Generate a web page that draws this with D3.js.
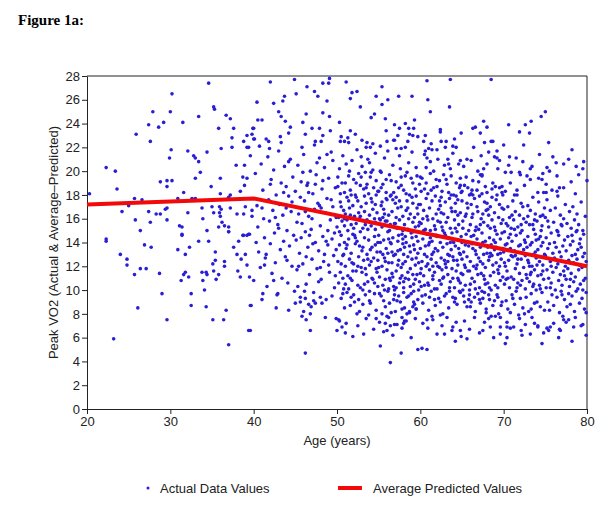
<!DOCTYPE html>
<html>
<head>
<meta charset="utf-8">
<script src="https://cdn.jsdelivr.net/npm/d3@7"></script>
<style>
	body { margin: 0; background: #fff; }
	text { font-family: "Liberation Sans", Arial, sans-serif; }
</style>
</head>
<body>
<div class="chart"></div>
<script>
var ageTicks = [20, 30, 40, 50, 60, 70, 80];
var vo2Ticks = [0, 2, 4, 6, 8, 10, 12, 14, 16, 18, 20, 22, 24, 26, 28];

// average predicted values (age, peak VO2)
var predAge = [20, 40, 80];
var predVo2 = [17.2, 17.7, 12.0];

// actual data values, [age, peak VO2]
var young = [[20.3,18.1],[22.3,20.3],[23.4,20.0],[23.6,18.5],[24.2,16.6],[25.0,17.1],[25.7,17.7],[26.6,17.6],[25.8,15.9],[26.4,15.0],[25.9,23.1],[27.4,23.9],[27.6,22.5],[27.9,25.0],[28.6,23.7],[29.2,24.1],[27.4,16.6],[27.6,15.7],[28.3,16.4],[28.8,16.4],[28.8,19.1],[29.6,19.2],[29.6,18.7],[30.2,19.2],[29.9,21.1],[30.1,21.8],[30.0,25.0],[30.2,26.5],[31.5,24.1],[32.1,21.7],[32.8,21.3],[33.0,21.1],[33.4,20.8],[33.6,19.9],[33.4,24.6],[33.0,19.4],[31.6,18.2],[30.9,17.7],[32.6,17.7],[33.0,17.7],[29.6,16.9],[29.4,16.8],[29.6,15.9],[31.1,15.4],[31.4,15.3],[31.4,14.7],[32.1,16.5],[33.8,16.9],[34.4,21.6],[34.6,27.4],[34.9,18.7],[35.2,25.4],[35.3,25.2],[36.0,19.4],[35.8,23.6],[36.1,21.9],[36.7,24.7],[37.2,24.4],[37.6,23.6],[37.4,22.8],[37.4,22.0],[37.9,20.5],[38.8,22.5],[39.2,23.0],[39.8,23.1],[39.9,23.6],[40.0,22.7],[39.2,22.0],[39.4,22.0],[39.6,21.3],[38.9,20.5],[38.7,19.5],[39.2,19.4],[38.9,18.8],[38.4,18.3],[37.2,18.0],[37.0,17.8],[36.0,18.1],[35.0,17.0],[35.2,16.5],[35.9,17.0],[36.1,16.8],[35.9,16.5],[36.0,16.2],[36.2,15.7],[35.8,15.3],[36.5,15.4],[37.0,15.3],[37.0,14.9],[37.2,16.9],[38.0,16.4],[38.8,16.4],[39.0,17.0],[39.8,16.7],[39.8,16.2],[38.7,14.6],[39.2,14.6],[39.4,14.7],[34.4,15.0],[33.9,16.0],[22.3,14.3],
	[22.3,14.1],[23.2,5.9],[24.0,13.0],[24.8,12.6],[24.8,12.1],[25.7,11.3],[26.1,8.5],[26.4,11.8],[26.9,13.8],[27.1,11.8],[27.7,13.6],[28.7,11.4],[29.0,9.7],[29.6,7.5],[30.9,13.4],[31.4,14.6],[31.8,13.0],[32.3,13.6],[31.6,11.3],[31.8,11.5],[32.2,11.1],[31.3,10.8],[32.5,9.7],[32.5,8.7],[33.4,14.1],[34.6,14.1],[33.8,11.5],[34.3,11.5],[34.4,11.3],[33.9,10.8],[34.1,10.0],[34.3,8.6],[35.1,7.5],[35.4,13.2],[35.4,12.5],[35.1,12.2],[35.2,11.6],[35.8,11.3],[35.5,10.9],[36.5,12.4],[36.5,12.0],[36.4,7.5],[36.7,8.3],[37.0,5.4],[37.6,13.6],[38.0,13.0],[38.2,14.1],[38.5,12.6],[39.0,13.0],[39.2,12.1],[38.1,11.6],[38.4,11.1],[39.5,11.1],[40.0,10.8],[39.7,8.7],[39.4,6.6],[38.8,14.6],[39.5,14.7],[37.0,14.9],[39.6,8.7],[39.6,6.6]];

var sparseEdges = [[42.0,27.5],[44.9,27.7],[46.4,27.1],[48.3,27.4],[49.0,27.4],[49.1,27.8],[51.1,27.5],[51.8,26.6],[52.4,26.7],[55.4,27.1],[40.4,25.8],[42.4,25.7],[43.5,25.9],[43.7,26.3],[45.1,26.5],[47.3,26.7],[47.7,26.3],[48.8,25.9],[51.6,26.1],[52.8,25.4],[54.7,26.3],[55.4,25.6],[56.1,26.0],[57.4,26.3],[59.0,26.3],[43.0,25.0],[43.3,24.6],[43.8,24.2],[45.9,24.1],[46.3,24.8],[48.3,24.9],[49.1,24.6],[50.3,24.1],[51.6,23.4],[54.1,24.5],[54.5,24.8],[55.8,24.4],[56.9,23.9],[57.5,23.6],[58.6,23.6],[59.2,23.6],[59.3,24.3],[40.0,23.6],[40.1,22.7],[40.5,24.3],[41.0,24.3],[41.5,22.7],[41.8,22.5],[43.2,22.9],[44.4,23.7],[44.2,23.2],[46.2,23.1],[47.0,23.6],[47.9,23.6],[47.4,22.5],[48.1,22.5],[48.3,23.0],[49.2,23.4],[50.5,22.9],[50.9,22.5],[51.4,22.4],[53.0,22.6],[53.6,22.4],[54.0,22.0],[56.0,22.5],[56.8,22.6],[57.1,21.9],[57.7,21.9],[58.5,22.5],[59.1,23.0],[58.2,24.0],
	[60.8,27.6],[63.6,27.7],[68.5,27.7],[60.9,26.0],[61.2,25.0],[63.5,25.4],[75.0,25.0],[74.5,24.6],[73.3,24.2],[72.6,23.9],[71.9,23.3],[73.1,23.2],[70.6,23.9],[67.6,24.2],[66.6,23.7],[66.3,23.6],[67.2,23.2],[68.0,23.7],[64.9,23.2],[62.4,23.5],[60.4,22.5],[62.5,22.5],[63.1,22.5],[63.9,22.1],[64.3,22.0],[61.0,21.9],[61.4,21.8],[60.6,21.7],[62.0,21.8],[67.7,22.4],[68.7,22.5],[70.0,22.2],[72.4,22.2],[75.4,22.4],[78.2,21.8],[68.2,21.6],[68.9,21.2],[69.2,21.1],[69.5,20.9],[70.7,21.2],[64.8,20.9],[66.1,20.9],[60.8,21.1],[63.3,21.0],[63.4,20.6],[76.3,20.7],[78.7,20.4],[79.5,20.2],[73.4,20.4],[75.2,20.3],[71.9,19.9],[72.0,19.7],[70.9,19.9],[67.6,20.2],[67.2,19.7],[67.4,19.6],[69.3,20.2],[73.2,19.3],[74.2,19.4],[74.7,19.8],[80.0,19.2],[77.2,18.6],[76.4,18.3],[75.1,18.2],[74.1,18.2],[71.6,18.4],[71.3,18.0],[69.0,18.7],[69.8,18.7],[69.9,18.0],[64.8,18.8],[65.0,18.3],[66.1,18.1],
	[60.8,5.0],[60.2,5.1],[70.2,5.5],[74.6,5.5],[78.2,5.7],[64.2,5.7],[65.6,5.9],[62.9,6.3],[67.5,6.6],[68.8,6.0],[72.1,6.6],[72.2,6.2],[73.2,6.3],[70.4,6.0],[76.6,6.0],[76.7,6.7],[79.5,7.1],[79.9,8.1],[78.6,7.7],[77.8,7.5],[77.2,7.5],[75.6,6.9],[75.4,6.6],[74.1,6.9],[73.7,7.2],[64.8,6.6],[63.9,6.9],[62.4,7.9],[61.4,7.8],[60.8,7.5],[69.6,6.9],[70.4,6.9],[70.8,6.8],[68.2,7.6],[68.5,7.8],[69.6,7.7],
	[46.2,4.7],[55.2,5.3],[56.4,3.9],[57.7,4.7],[59.7,5.0],[46.8,6.6],[50.0,6.6],[51.0,6.4],[49.9,7.6],[50.3,7.4],[56.0,6.6],[56.4,7.0],[56.9,7.1],[58.0,7.2],[53.5,7.6],[54.7,7.6],[55.8,7.2],[56.2,7.7],[57.8,7.7],[58.1,7.4],[58.4,8.0],[58.7,8.2],[59.1,8.6],[59.5,8.4],[45.8,7.8],[46.3,7.5],[46.8,8.0],[46.0,8.2],[42.7,8.5],[44.2,8.3],[45.0,8.9],[41.1,9.7],[41.0,9.2],[42.9,9.7],[45.6,9.0],[46.2,9.3],[46.6,8.8],[47.2,9.1],[47.4,8.9],[48.0,9.4],[48.2,8.9],[48.6,7.7]];

var forties = [[40.2,19.8],[40.4,17.1],[40.5,15.3],[40.6,13.2],[40.8,11.9],[40.9,20.6],[41.1,18.4],[41.2,16.0],[41.3,14.4],[41.4,12.7],[41.6,10.3],[41.7,21.2],[41.8,17.6],[41.9,15.8],[42.0,13.9],[42.1,19.3],[42.2,11.4],[42.3,16.7],[42.4,20.1],[42.5,14.8],[42.6,12.3],[42.7,18.0],[42.8,9.6],[42.9,15.5],[43.0,21.7],[43.1,17.2],[43.2,13.4],[43.3,19.0],[43.4,11.0],[43.5,16.3],[43.6,14.1],[43.7,20.4],[43.8,12.8],[43.9,18.7],[44.0,15.0],[44.1,10.6],[44.2,17.9],[44.3,13.7],[44.4,21.0],[44.5,16.6],[44.6,12.0],[44.7,19.5],[44.8,14.6],[44.9,9.9],[40.3,14.0],[41.0,16.9],[41.5,13.0],[42.0,18.9],[42.4,10.8],[43.0,15.2],[43.6,18.2],[44.0,12.5],[44.6,17.4],[40.7,22.1],[41.9,21.9],[43.3,22.4],[44.2,20.8],[42.6,16.1],[43.9,16.9],[41.3,12.1],
	[45.0,18.3],[45.1,14.2],[45.2,11.7],[45.3,20.5],[45.4,16.4],[45.5,13.1],[45.6,9.4],[45.7,19.1],[45.8,15.6],[45.9,12.2],[46.0,21.4],[46.1,17.5],[46.2,14.9],[46.3,10.5],[46.4,18.8],[46.5,13.6],[46.6,16.2],[46.7,11.3],[46.8,20.0],[46.9,15.1],[47.0,12.6],[47.1,18.1],[47.2,9.8],[47.3,16.8],[47.4,14.0],[47.5,19.7],[47.6,11.8],[47.7,17.3],[47.8,13.3],[47.9,21.1],[48.0,15.4],[48.1,10.9],[48.2,18.5],[48.3,14.5],[48.4,12.4],[48.5,20.3],[48.6,16.5],[48.7,9.2],[48.8,17.7],[48.9,13.8],[49.0,19.4],[49.1,11.5],[49.2,15.9],[49.3,21.6],[49.4,14.3],[49.5,17.0],[49.6,12.9],[49.7,10.2],[49.8,18.6],[49.9,16.1],[45.2,15.7],[45.6,17.8],[45.9,19.9],[46.3,12.8],[46.7,14.6],[47.0,16.0],[47.4,18.9],[47.8,10.7],[48.1,16.9],[48.5,13.0],[48.9,15.0],[49.3,17.6],[49.7,14.8],[45.4,12.0],[46.1,9.9],[46.9,8.6],[47.6,20.7],[48.3,19.2],[49.0,12.1],[49.5,20.9],[45.8,22.0],[46.5,19.0],[47.3,22.2],[48.8,21.4],[49.9,13.4],[45.3,10.3],[46.2,16.6],[47.1,13.9],[48.0,11.9],[48.7,14.1],[49.4,9.5],[49.8,11.2],[47.9,17.1],[46.6,18.2],[45.7,14.4]];

var fifties = [[50.0,15.3],[50.1,12.4],[50.1,18.7],[50.2,10.6],[50.2,16.1],[50.3,13.8],[50.3,20.2],[50.4,11.5],[50.4,17.4],[50.5,14.6],[50.5,9.3],[50.6,19.0],[50.6,15.8],[50.7,12.9],[50.7,21.3],[50.8,16.7],[50.8,10.1],[50.9,14.0],[50.9,18.2],[51.0,12.0],[51.0,16.4],[51.1,20.6],[51.1,13.5],[51.2,9.8],[51.2,17.8],[51.3,15.0],[51.3,11.2],[51.4,19.6],[51.4,14.3],[51.5,16.9],[51.5,12.6],[51.6,8.7],[51.6,18.4],[51.7,15.5],[51.7,13.1],[51.8,20.9],[51.8,10.8],[51.9,17.1],[51.9,14.7],[52.0,12.2],[52.0,19.3],[52.1,16.2],[52.1,9.0],[52.2,13.9],[52.2,18.0],[52.3,11.6],[52.3,15.6],[52.4,21.8],[52.4,14.1],[52.5,17.5],[52.5,10.4],[52.6,12.8],[52.6,19.8],[52.7,16.0],[52.7,8.2],[52.8,14.9],[52.8,18.8],[52.9,11.9],[52.9,17.0],[53.0,13.3],[53.0,20.4],[53.1,15.2],[53.1,10.0],[53.2,18.5],[53.2,12.5],[53.3,16.6],[53.3,14.4],[53.4,9.6],[53.4,19.9],[53.5,11.3],[53.5,17.3],[53.6,15.9],[53.6,13.0],[53.7,21.0],[53.7,10.7],[53.8,18.1],[53.8,14.2],[53.9,16.3],[53.9,12.1],[54.0,19.5],[54.0,8.9],[54.1,15.4],[54.1,17.7],[54.2,11.0],[54.2,13.6],[54.3,20.1],[54.3,16.8],[54.4,12.7],[54.4,18.6],[54.5,14.5],[54.5,9.7],[54.6,17.2],[54.6,15.1],[54.7,11.8],[54.7,19.2],[54.8,13.2],[54.8,16.5],[54.9,10.3],[54.9,18.3],[50.2,7.5],[50.6,6.9],[51.1,7.2],[51.9,6.1],[52.5,7.0],[53.2,6.3],[53.8,7.9],[54.4,6.7],[50.4,22.5],[51.3,22.8],[52.2,23.1],[53.5,22.0],[54.6,21.5],[50.9,8.5],[51.7,9.4],[52.4,8.0],[53.1,8.8],[53.9,9.1],[54.7,8.3],[50.3,14.9],[50.8,13.0],[51.2,15.9],[51.6,11.0],[52.1,14.6],[52.6,16.5],[53.0,11.5],[53.6,18.9],[54.1,12.4],[54.5,16.0],[54.9,14.0],[50.5,17.0],[51.4,17.5],[52.3,19.0],[53.3,17.9],[54.2,17.4],[50.7,11.0],[51.8,12.3],[52.8,10.2],[53.7,12.6],[54.8,11.5],[50.1,19.5],[51.5,20.0],[52.9,21.2],[54.3,22.3],[51.0,10.5],[52.0,15.2],[53.4,15.5],[54.6,13.8],[52.7,13.7],[53.9,20.7],[50.9,16.0],
	[55.0,14.6],[55.0,18.3],[55.1,11.1],[55.1,16.0],[55.2,13.2],[55.2,20.0],[55.3,9.5],[55.3,17.1],[55.4,15.3],[55.4,12.0],[55.5,18.9],[55.5,10.4],[55.6,14.2],[55.6,16.8],[55.7,12.7],[55.7,21.1],[55.8,8.6],[55.8,15.8],[55.9,13.5],[55.9,19.3],[56.0,11.7],[56.0,17.6],[56.1,14.9],[56.1,9.9],[56.2,16.3],[56.2,12.3],[56.3,19.7],[56.3,15.0],[56.4,10.8],[56.4,17.9],[56.5,13.9],[56.5,8.1],[56.6,16.6],[56.6,11.4],[56.7,14.4],[56.7,20.5],[56.8,12.9],[56.8,18.2],[56.9,15.6],[56.9,10.0],[57.0,17.3],[57.0,13.0],[57.1,19.1],[57.1,11.6],[57.2,15.2],[57.2,9.1],[57.3,16.9],[57.3,14.1],[57.4,12.5],[57.4,18.6],[57.5,10.6],[57.5,15.9],[57.6,13.4],[57.6,20.2],[57.7,11.9],[57.7,17.0],[57.8,14.7],[57.8,8.4],[57.9,16.2],[57.9,12.2],[58.0,18.4],[58.0,10.2],[58.1,15.5],[58.1,13.6],[58.2,19.6],[58.2,11.0],[58.3,16.7],[58.3,14.0],[58.4,9.4],[58.4,17.5],[58.5,12.8],[58.5,15.1],[58.6,20.7],[58.6,10.9],[58.7,13.7],[58.7,18.0],[58.8,16.4],[58.8,11.8],[58.9,14.8],[58.9,9.7],[59.0,17.8],[59.0,12.6],[59.1,15.7],[59.1,19.0],[59.2,10.5],[59.2,13.8],[59.3,16.1],[59.3,8.8],[59.4,18.5],[59.4,12.1],[59.5,14.5],[59.5,20.3],[59.6,11.3],[59.6,16.9],[59.7,13.1],[59.7,9.2],[59.8,17.2],[59.8,15.4],[59.9,10.7],[59.9,18.9],[55.1,7.3],[55.6,6.5],[56.0,7.8],[56.7,6.2],[57.2,7.1],[57.8,6.8],[58.3,7.4],[58.9,6.0],[59.4,7.6],[55.4,8.0],[56.3,8.9],[57.0,8.2],[57.6,9.0],[58.1,8.5],[58.7,8.1],[59.5,8.4],[55.2,22.1],[56.1,21.7],[56.9,22.6],[57.5,21.3],[58.2,22.0],[59.0,21.6],[59.7,22.9],[55.3,19.9],[55.9,17.7],[56.5,19.2],[57.1,16.1],[57.7,18.8],[58.4,19.9],[59.1,17.3],[59.6,19.6],[55.0,11.9],[55.5,13.0],[56.2,14.3],[56.8,10.3],[57.3,12.1],[58.0,13.0],[58.5,11.5],[59.2,14.9],[59.8,12.3],[55.2,15.9],[55.7,16.4],[56.4,15.5],[56.6,13.2],[57.4,14.6],[57.9,15.0],[58.6,16.0],[59.3,13.4],[59.9,15.7],[55.8,10.9],[56.3,11.0],[57.1,10.2],[57.8,11.2],[58.8,10.3],[59.4,10.9],[55.4,17.4],[56.0,15.8],[56.7,17.6],[57.5,17.5],[58.2,14.5],[59.0,14.4],[59.7,16.4],[55.6,9.1],[56.9,9.6],[58.0,9.8],[59.2,9.0],[55.9,23.4],[57.3,23.0],[58.7,23.1],[56.6,12.3],[57.9,13.9],[59.5,12.7]];

var sixties = [[60.0,13.5],[60.0,17.2],[60.1,10.3],[60.1,15.6],[60.2,12.4],[60.2,19.4],[60.3,14.3],[60.3,8.9],[60.4,16.7],[60.4,11.2],[60.5,18.5],[60.5,13.0],[60.6,15.1],[60.6,9.6],[60.7,20.3],[60.7,12.0],[60.8,16.2],[60.8,14.7],[60.9,10.6],[60.9,18.1],[61.0,13.8],[61.0,8.3],[61.1,16.9],[61.1,11.7],[61.2,15.0],[61.2,19.8],[61.3,12.6],[61.3,9.9],[61.4,17.5],[61.4,14.1],[61.5,10.9],[61.5,16.0],[61.6,13.2],[61.6,20.0],[61.7,11.5],[61.7,15.4],[61.8,8.7],[61.8,17.9],[61.9,14.6],[61.9,12.3],[62.0,18.7],[62.0,10.1],[62.1,15.8],[62.1,13.3],[62.2,16.8],[62.2,9.3],[62.3,11.9],[62.3,19.2],[62.4,14.0],[62.4,17.1],[62.5,12.7],[62.5,10.5],[62.6,15.3],[62.6,18.3],[62.7,13.6],[62.7,8.0],[62.8,16.4],[62.8,11.1],[62.9,14.8],[62.9,20.5],[63.0,12.2],[63.0,17.4],[63.1,9.7],[63.1,15.7],[63.2,13.9],[63.2,18.9],[63.3,11.3],[63.3,16.1],[63.4,14.4],[63.4,8.5],[63.5,17.7],[63.5,12.9],[63.6,10.7],[63.6,15.2],[63.7,19.6],[63.7,13.4],[63.8,11.8],[63.8,16.6],[63.9,9.4],[63.9,14.2],[64.0,18.0],[64.0,12.5],[64.1,15.9],[64.1,10.2],[64.2,13.7],[64.2,17.3],[64.3,11.6],[64.3,19.0],[64.4,14.9],[64.4,8.8],[64.5,16.3],[64.5,12.1],[64.6,10.8],[64.6,15.5],[64.7,13.1],[64.7,18.6],[64.8,9.8],[64.8,16.5],[64.9,14.5],[64.9,11.4],[60.3,7.2],[60.9,6.8],[61.5,7.5],[62.0,6.3],[62.6,7.0],[63.2,7.7],[63.8,6.6],[64.3,7.3],[64.9,6.1],[60.5,21.4],[61.3,22.3],[62.1,21.0],[63.0,22.0],[63.9,21.5],[64.6,20.6],[60.6,23.0],[62.4,23.3],[64.1,22.7],[60.1,11.8],[60.8,12.8],[61.4,13.0],[62.0,14.5],[62.7,15.0],[63.3,13.0],[64.0,14.0],[64.6,13.5],[60.4,15.0],[61.1,14.0],[61.9,16.4],[62.5,16.5],[63.1,11.9],[63.7,16.9],[64.4,12.5],[60.2,9.5],[61.0,10.4],[61.7,9.2],[62.4,9.0],[63.5,9.9],[64.2,9.3],[64.8,10.6],[60.7,17.7],[61.6,18.6],[62.3,17.5],[63.4,18.2],[64.5,17.6],[60.0,19.5],[61.2,20.8],[62.8,19.7],[63.6,20.2],[64.8,19.4],[60.9,15.9],[61.8,13.5],[62.9,12.5],[63.8,14.8],[64.2,15.2],[61.5,12.0],[62.6,11.7],[63.9,11.0],
	[65.0,14.0],[65.0,17.5],[65.1,11.3],[65.1,15.8],[65.2,9.5],[65.2,13.2],[65.3,18.8],[65.3,12.1],[65.4,16.2],[65.4,10.4],[65.5,14.7],[65.5,19.5],[65.6,12.8],[65.6,8.6],[65.7,16.9],[65.7,11.6],[65.8,15.0],[65.8,13.7],[65.9,10.0],[65.9,18.0],[66.0,12.4],[66.0,15.5],[66.1,9.0],[66.1,17.2],[66.2,13.9],[66.2,11.0],[66.3,16.4],[66.3,19.2],[66.4,12.0],[66.4,14.6],[66.5,10.7],[66.5,17.7],[66.6,13.3],[66.6,8.2],[66.7,15.3],[66.7,11.8],[66.8,18.4],[66.8,14.3],[66.9,9.7],[66.9,16.6],[67.0,12.7],[67.0,15.1],[67.1,10.2],[67.1,17.9],[67.2,13.6],[67.2,8.9],[67.3,16.0],[67.3,11.4],[67.4,14.8],[67.4,19.7],[67.5,12.2],[67.5,9.3],[67.6,15.7],[67.6,13.0],[67.7,17.4],[67.7,10.9],[67.8,14.1],[67.8,11.9],[67.9,16.7],[67.9,8.4],[68.0,13.1],[68.0,18.2],[68.1,10.6],[68.1,15.4],[68.2,12.5],[68.2,16.3],[68.3,9.2],[68.3,14.4],[68.4,11.2],[68.4,17.0],[68.5,13.8],[68.5,10.0],[68.6,15.9],[68.6,12.9],[68.7,19.0],[68.7,8.7],[68.8,14.2],[68.8,11.5],[68.9,16.5],[68.9,13.4],[69.0,10.4],[69.0,15.0],[69.1,12.3],[69.1,17.6],[69.2,9.6],[69.2,14.7],[69.3,11.7],[69.3,13.0],[69.4,16.1],[69.4,8.0],[69.5,12.0],[69.5,18.6],[69.6,14.3],[69.6,10.8],[69.7,15.6],[69.7,12.6],[69.8,9.0],[69.8,16.9],[69.9,13.5],[69.9,11.1],[65.3,7.4],[65.9,6.7],[66.5,7.7],[67.1,6.4],[67.7,7.3],[68.4,6.9],[69.0,7.8],[69.6,6.3],[65.6,21.0],[66.4,22.0],[67.3,21.3],[68.0,20.6],[69.2,21.7],[65.2,20.4],[66.9,20.0],[68.5,22.5],[65.1,10.0],[65.8,9.2],[66.6,10.1],[67.4,9.9],[68.2,9.6],[69.3,9.4],[65.4,13.8],[66.1,14.5],[66.8,12.1],[67.5,14.0],[68.3,12.8],[69.1,13.6],[69.8,14.8],[65.7,18.6],[66.3,18.0],[67.0,19.1],[67.8,18.7],[68.6,17.8],[69.5,17.2],[65.5,16.4],[66.2,16.1],[67.2,15.5],[68.1,16.8],[68.9,15.3],[65.0,12.6],[65.9,11.6],[66.7,13.0],[67.6,11.2],[68.4,13.1],[69.4,11.4],[66.0,8.6],[67.9,8.1],[69.7,8.7]];

var seventies = [[70.0,13.2],[70.0,16.8],[70.1,10.5],[70.1,14.9],[70.2,12.0],[70.2,18.3],[70.3,9.1],[70.3,15.6],[70.4,11.6],[70.4,13.9],[70.5,17.0],[70.5,8.4],[70.6,14.4],[70.6,12.5],[70.7,16.1],[70.7,10.2],[70.8,19.0],[70.8,13.5],[70.9,11.1],[70.9,15.2],[71.0,9.6],[71.0,14.1],[71.1,12.8],[71.1,17.5],[71.2,10.9],[71.2,15.9],[71.3,8.8],[71.3,13.3],[71.4,11.8],[71.4,16.6],[71.5,14.6],[71.5,9.9],[71.6,12.2],[71.6,18.0],[71.7,15.3],[71.7,10.6],[71.8,13.7],[71.8,7.9],[71.9,16.3],[71.9,11.4],[72.0,14.8],[72.0,9.3],[72.1,12.6],[72.1,17.3],[72.2,10.8],[72.2,15.0],[72.3,13.1],[72.3,8.5],[72.4,16.0],[72.4,11.9],[72.5,14.2],[72.5,18.8],[72.6,10.1],[72.6,12.9],[72.7,15.7],[72.7,9.4],[72.8,13.6],[72.8,11.0],[72.9,17.1],[72.9,14.5],[73.0,12.3],[73.0,8.2],[73.1,15.5],[73.1,10.7],[73.2,13.8],[73.2,16.7],[73.3,11.5],[73.3,9.7],[73.4,14.0],[73.4,12.0],[73.5,17.8],[73.5,10.3],[73.6,15.1],[73.6,13.0],[73.7,8.9],[73.7,11.7],[73.8,16.4],[73.8,14.7],[73.9,10.0],[73.9,12.7],[74.0,15.8],[74.0,9.0],[74.1,13.4],[74.1,11.2],[74.2,17.4],[74.2,14.3],[74.3,10.4],[74.3,12.4],[74.4,16.2],[74.4,8.6],[74.5,13.7],[74.5,11.3],[74.6,15.4],[74.6,9.8],[74.7,14.0],[74.7,12.1],[74.8,18.2],[74.8,10.9],[74.9,13.0],[74.9,16.9],[70.4,7.3],[71.2,6.9],[71.9,7.6],[72.6,7.1],[73.4,7.7],[74.1,7.0],[74.8,6.4],[70.6,20.5],[71.5,21.1],[72.3,20.8],[73.2,20.2],[74.3,21.4],[70.2,19.9],[72.8,19.6],[74.6,19.3],[70.1,12.3],[70.9,12.9],[71.7,12.6],[72.4,13.4],[73.1,12.0],[73.9,14.2],[74.7,11.6],[70.5,15.4],[71.3,15.1],[72.1,15.5],[72.9,16.2],[73.7,15.9],[74.5,15.0],[70.3,10.9],[71.1,9.3],[72.0,10.4],[72.7,11.3],[73.6,10.5],[74.4,10.1],[70.8,8.1],[72.5,8.0],[73.3,8.4],[74.9,8.3],
	[75.0,12.9],[75.0,16.1],[75.1,10.2],[75.1,14.4],[75.2,11.7],[75.2,17.6],[75.3,9.0],[75.3,13.5],[75.4,15.3],[75.4,11.0],[75.5,13.9],[75.5,8.3],[75.6,16.7],[75.6,12.4],[75.7,10.6],[75.7,14.8],[75.8,9.6],[75.8,18.4],[75.9,13.1],[75.9,11.5],[76.0,15.7],[76.0,8.7],[76.1,12.7],[76.1,14.0],[76.2,10.0],[76.2,16.9],[76.3,11.9],[76.3,13.6],[76.4,9.4],[76.4,15.0],[76.5,12.2],[76.5,17.9],[76.6,10.8],[76.6,14.6],[76.7,8.1],[76.7,13.2],[76.8,11.3],[76.8,16.3],[76.9,9.9],[76.9,12.8],[77.0,15.4],[77.0,10.4],[77.1,13.7],[77.1,7.8],[77.2,11.6],[77.2,16.0],[77.3,14.2],[77.3,9.2],[77.4,12.0],[77.4,17.2],[77.5,10.9],[77.5,13.3],[77.6,15.6],[77.6,8.6],[77.7,11.8],[77.7,14.5],[77.8,9.7],[77.8,12.5],[77.9,16.6],[77.9,10.3],[78.0,13.8],[78.0,8.8],[78.1,11.4],[78.1,15.2],[78.2,12.9],[78.2,9.5],[78.3,14.1],[78.3,17.0],[78.4,10.7],[78.4,12.3],[78.5,15.9],[78.5,8.2],[78.6,13.0],[78.6,11.1],[78.7,14.9],[78.7,9.9],[78.8,12.6],[78.8,16.4],[78.9,10.1],[78.9,13.4],[79.0,11.7],[79.0,15.5],[79.1,8.9],[79.1,12.1],[79.2,14.3],[79.2,10.5],[79.3,13.6],[79.3,17.4],[79.4,9.3],[79.4,11.9],[79.5,15.0],[79.5,12.8],[79.6,10.8],[79.6,14.7],[79.7,8.4],[79.7,13.1],[79.8,11.0],[79.8,16.2],[79.9,9.8],[79.9,12.4],[75.2,6.8],[76.0,7.2],[76.8,6.6],[77.5,7.3],[78.4,6.9],[79.3,7.0],[79.9,6.2],[75.5,20.0],[76.4,19.6],[77.2,20.6],[78.1,19.1],[79.0,19.7],[75.9,21.2],[77.8,21.0],[79.6,20.8],[75.1,18.9],[76.7,18.6],[78.6,18.1],[75.7,12.0],[76.5,14.9],[77.3,11.2],[78.2,14.6],[79.1,13.9],[75.3,15.8],[76.9,15.5],[78.8,15.0],[75.6,10.2],[77.0,9.6],[78.0,10.9],[79.5,10.0]];

// extra points where the cloud is densest
var denseCore = [[50.5,12.2],[50.9,15.4],[51.2,13.8],[51.6,16.3],[51.9,11.6],[52.2,14.4],[52.5,12.0],[52.8,16.2],[53.1,13.6],[53.4,11.8],[53.7,15.1],[54.0,13.4],[54.3,10.9],[54.6,15.7],[54.9,12.5],[55.2,14.0],[55.5,16.1],[55.8,12.4],[56.1,13.1],[56.4,14.0],[56.7,11.1],[57.0,15.6],[57.3,13.3],[57.6,11.0],[57.9,14.3],[58.2,12.4],[58.5,16.9],[58.8,13.2],[59.1,11.3],[59.4,15.3],[59.7,14.1],[60.0,11.4],[60.3,16.0],[60.6,13.7],[60.9,12.2],[61.2,14.4],[61.5,11.2],[61.8,15.1],[62.1,12.0],[62.4,15.7],[62.7,11.0],[63.0,14.6],[63.3,12.4],[63.6,14.0],[63.9,12.8],[64.2,16.6],[64.5,11.0],[64.8,13.0],[65.1,15.2],[65.4,11.9],[65.7,14.0],[66.0,10.5],[66.3,13.5],[66.6,15.0],[66.9,11.3],[67.2,12.4],[67.5,16.4],[67.8,10.5],[68.1,13.6],[68.4,15.2],[68.7,12.1],[69.0,14.0],[69.3,10.2],[69.6,13.1],[69.9,15.9],
	[50.7,9.7],[51.4,10.1],[52.0,9.6],[52.6,9.2],[53.3,10.5],[53.9,9.9],[54.5,10.6],[55.1,9.7],[55.7,10.0],[56.2,10.1],[56.8,9.2],[57.4,9.5],[58.0,10.7],[58.6,9.5],[59.2,9.9],[59.8,10.0],[60.5,10.4],[61.1,9.4],[61.7,10.1],[62.3,10.8],[62.9,9.5],[63.5,10.2],[64.1,9.0],[64.7,9.9],[65.3,9.0],[65.9,9.6],[66.5,9.4],[67.1,9.2],[67.7,9.8],[68.3,10.2],[68.9,9.1],
	[50.4,18.1],[51.0,19.0],[51.7,18.0],[52.3,17.8],[52.9,19.5],[53.5,18.6],[54.1,19.9],[54.7,18.0],[55.3,18.6],[55.9,18.2],[56.5,18.0],[57.1,17.8],[57.7,19.5],[58.3,18.1],[58.9,19.4],[59.5,17.9],[60.1,18.3],[60.7,19.0],[61.3,18.4],[61.9,19.3],[62.5,17.8],[63.1,19.3],[63.7,18.0],[64.3,17.9],[64.9,18.2],[65.6,17.3],[66.2,18.4],[66.8,17.0],[67.4,18.1],[68.0,17.3],[68.6,18.5],[69.2,18.0],[69.8,18.2],
	[70.2,13.8],[70.8,14.7],[71.4,12.9],[72.0,13.8],[72.6,14.0],[73.2,11.3],[73.8,13.2],[74.4,14.5],[70.5,11.0],[71.6,10.2],[72.9,12.5],[74.0,12.1],[71.0,16.3],[72.3,17.0],[73.5,15.5],[74.7,16.3]];

(function() {
	var width = 609,
		height = 512;

	var dotColor = "#2a1ed4",
		lineColor = "#f20a0a";

	var svg = d3.select(".chart").append("svg")
		.attr("width", width)
		.attr("height", height);

	var x = d3.scaleLinear().domain([20, 80]).range([87, 587]),
		y = d3.scaleLinear().domain([0, 28]).range([409, 76]);

	svg.append("text")
		.attr("x", 18)
		.attr("y", 25)
		.style("font-family", "'Liberation Serif', 'Times New Roman', serif")
		.style("font-weight", "bold")
		.style("font-size", "15px")
		.text("Figure 1a:");

	// frame: top and right edges
	svg.append("path")
		.attr("d", "M" + x(20) + "," + y(28) + "H" + x(80) + "V" + y(0))
		.attr("fill", "none")
		.attr("stroke", "#222")
		.attr("stroke-width", 1);

	var yAxis = svg.append("g")
		.attr("transform", "translate(" + x(20) + ",0)")
		.call(d3.axisLeft(y).tickValues(vo2Ticks).tickSize(5).tickSizeOuter(0).tickPadding(2));

	var xAxis = svg.append("g")
		.attr("transform", "translate(0," + y(0) + ")")
		.call(d3.axisBottom(x).tickValues(ageTicks).tickSize(5).tickSizeOuter(0).tickPadding(3));

	[xAxis, yAxis].forEach(function(g) {
		g.selectAll("path, line").attr("stroke", "#222");
		g.selectAll("text")
			.attr("fill", "#222")
			.style("font-family", "'Liberation Sans', Arial, sans-serif")
			.style("font-size", "13px");
	});

	svg.append("text")
		.attr("x", (x(20) + x(80)) / 2)
		.attr("y", 445)
		.attr("text-anchor", "middle")
		.attr("fill", "#222")
		.style("font-size", "13px")
		.text("Age (years)");

	svg.append("text")
		.attr("transform", "translate(58," + (y(0) + y(28)) / 2 + ") rotate(-90)")
		.attr("text-anchor", "middle")
		.attr("fill", "#222")
		.style("font-size", "13px")
		.text("Peak VO2 (Actual & Average\u2013Predicted)");

	var points = young.concat(sparseEdges, forties, fifties, sixties, seventies, denseCore);

	svg.append("g").selectAll("circle")
		.data(points)
		.enter().append("circle")
		.attr("cx", function(d) { return x(d[0]); })
		.attr("cy", function(d) { return y(d[1]); })
		.attr("r", 1.8)
		.attr("fill", dotColor);

	var line = d3.line()
		.x(function(d) { return x(d); })
		.y(function(d, i) { return y(predVo2[i]); });

	svg.append("path")
		.datum(predAge)
		.attr("d", line)
		.attr("fill", "none")
		.attr("stroke", lineColor)
		.attr("stroke-width", 4);

	// legend
	var legend = svg.append("g").attr("transform", "translate(0,488)");

	legend.append("circle")
		.attr("cx", 148)
		.attr("cy", 0)
		.attr("r", 1.5)
		.attr("fill", dotColor);

	legend.append("text")
		.attr("x", 160)
		.attr("y", 5)
		.attr("fill", "#222")
		.style("font-size", "13px")
		.text("Actual Data Values");

	legend.append("line")
		.attr("x1", 338)
		.attr("x2", 362)
		.attr("y1", 0)
		.attr("y2", 0)
		.attr("stroke", lineColor)
		.attr("stroke-width", 4);

	legend.append("text")
		.attr("x", 373)
		.attr("y", 5)
		.attr("fill", "#222")
		.style("font-size", "13px")
		.text("Average Predicted Values");
})();
</script>
</body>
</html>
